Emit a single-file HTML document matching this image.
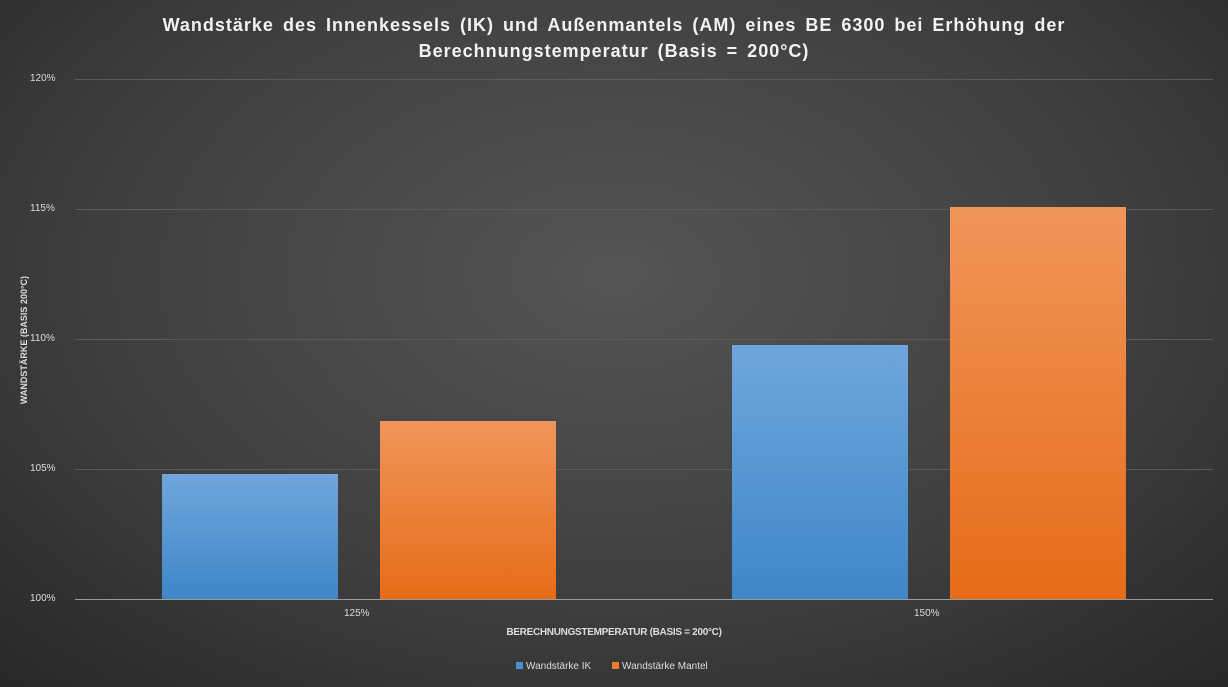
<!DOCTYPE html>
<html><head><meta charset="utf-8"><style>
html,body{margin:0;padding:0}
body{width:1228px;height:687px;overflow:hidden;font-family:"Liberation Sans",sans-serif;
background:radial-gradient(ellipse 75% 85% at 50% 40%,#555555 0%,#3f3f3f 55%,#262626 100%);position:relative}
.t{position:absolute;color:#ddd}
.bar{position:absolute}
.ik{background:linear-gradient(#6fa6dc,#3f86c8)}
.am{background:linear-gradient(#f0955a,#e66c18)}
.g{position:absolute;left:75px;width:1138px;height:1px;background:#5a5a5a}
</style></head><body>
<div class="t" style="left:0;width:1228px;top:12px;text-align:center;font-size:18px;font-weight:bold;color:#f2f2f2;line-height:26px;letter-spacing:1px;word-spacing:3px">Wandstärke des Innenkessels (IK) und Außenmantels (AM) eines BE 6300 bei Erhöhung der<br>Berechnungstemperatur (Basis = 200°C)</div>
<div class="g" style="top:79px"></div>
<div class="g" style="top:209px"></div>
<div class="g" style="top:339px"></div>
<div class="g" style="top:469px"></div>
<div class="t" style="left:30px;top:73px;font-size:10px">120%</div>
<div class="t" style="left:30px;top:203px;font-size:10px">115%</div>
<div class="t" style="left:30px;top:333px;font-size:10px">110%</div>
<div class="t" style="left:30px;top:463px;font-size:10px">105%</div>
<div class="t" style="left:30px;top:593px;font-size:10px">100%</div>
<div class="bar ik" style="left:162px;top:474px;width:176px;height:125px"></div>
<div class="bar am" style="left:380px;top:421px;width:176px;height:178px"></div>
<div class="bar ik" style="left:732px;top:345px;width:176px;height:254px"></div>
<div class="bar am" style="left:950px;top:207px;width:176px;height:392px"></div>
<div style="position:absolute;left:75px;top:599px;width:1138px;height:1px;background:#9a9a9a"></div>
<div class="t" style="left:344px;top:608px;font-size:10px">125%</div>
<div class="t" style="left:914px;top:608px;font-size:10px">150%</div>
<div class="t" style="left:0;width:1228px;text-align:center;top:627px;font-size:10px;font-weight:bold;letter-spacing:-0.3px">BERECHNUNGSTEMPERATUR (BASIS = 200°C)</div>
<div class="t" style="left:18px;top:340px;font-size:9px;font-weight:bold;transform:translate(-50%,-50%) rotate(-90deg);transform-origin:center;white-space:nowrap;position:absolute;margin-left:6px">WANDSTÄRKE (BASIS 200°C)</div>
<div class="t" style="left:516px;top:661px;font-size:10px"><span style="display:inline-block;width:7px;height:7px;background:#4a8fd2;margin-right:3px"></span>Wandstärke IK</div>
<div class="t" style="left:612px;top:661px;font-size:10px"><span style="display:inline-block;width:7px;height:7px;background:#ed7d31;margin-right:3px"></span>Wandstärke Mantel</div>
</body></html>
